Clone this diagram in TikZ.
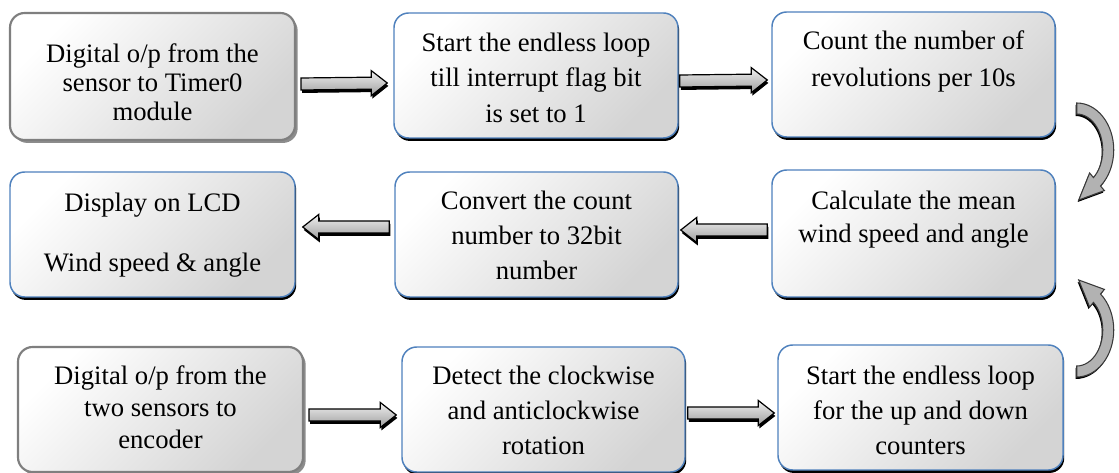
\documentclass[tikz,border=0pt]{standalone}
\usepackage{fontspec}
\setmainfont{Liberation Serif}
\usetikzlibrary{calc,shadows}
\definecolor{boxblue}{HTML}{4F81BD}
\definecolor{boxgrey}{HTML}{7F7F7F}
\definecolor{arrowline}{HTML}{3A3A3A}

% block arrow from one named coordinate to another
\newcommand\blockarrow[2]{%
  \path[blockarrow]
    ($(#1)+(0pt,4.5pt)$) -- ($(#2)!12pt!(#1)+(0pt,4.5pt)$)
    -- ($(#2)!12pt!(#1)+(0pt,9.4pt)$) -- (#2)
    -- ($(#2)!12pt!(#1)+(0pt,-9.4pt)$) -- ($(#2)!12pt!(#1)+(0pt,-4.5pt)$)
    -- ($(#1)+(0pt,-4.5pt)$) -- cycle;}

\begin{document}
\begin{tikzpicture}[x=0.75pt,y=-0.75pt,
  panel/.style 2 args={rounded corners=11pt, minimum width=#1*0.75pt,
    minimum height=#2*0.75pt, inner sep=0pt,
    top color=white, bottom color=black!17, shading angle=45},
  bluebox/.style={draw=boxblue, line width=1.1pt,
    drop shadow={shadow xshift=0.9pt, shadow yshift=-2.2pt, fill=black, opacity=1}},
  greybox/.style={draw=boxgrey, line width=1.6pt,
    drop shadow={shadow xshift=2pt, shadow yshift=-2.2pt, fill=black!45, opacity=1}},
  boxtext/.style={anchor=north, inner sep=0pt, align=center,
    font=\fontsize{20}{#1}\selectfont},
  blockarrow/.style={draw=black, line width=0.9pt, top color=black!6,
    bottom color=black!38,
    drop shadow={shadow xshift=0.8pt, shadow yshift=-2.2pt, fill=black, opacity=1}},
  curvearrow/.style={draw=arrowline, line width=0.8pt, fill=black!30,
    drop shadow={shadow xshift=-0.8pt, shadow yshift=-1.5pt, fill=black, opacity=1}}
]
\useasboundingbox (0,0) rectangle (1119,473);

% process boxes
\node[panel={285}{127}, greybox] (b1) at (152.5,76.5) {};
\node[panel={284}{125}, bluebox] (b2) at (536,75.5) {};
\node[panel={283}{125}, bluebox] (b3) at (913.5,74.5) {};
\node[panel={285}{125}, bluebox] (b4) at (152.5,234.5) {};
\node[panel={283}{125}, bluebox] (b5) at (536.5,234.5) {};
\node[panel={283}{127}, bluebox] (b6) at (913.5,233.5) {};
\node[panel={285}{125}, greybox] (b7) at (160.5,409.5) {};
\node[panel={283}{125}, bluebox] (b8) at (543.5,409.5) {};
\node[panel={285}{125}, bluebox] (b9) at (920.5,407.5) {};

% box texts
\node[boxtext=21.75pt] (t1) at ($(b1.north)+(0,30)$)
  {\rule{0pt}{15pt}Digital o/p from the\\ sensor to Timer0\\ module};
\node[boxtext=26.5pt] (t2) at ($(b2.north)+(0,19)$)
  {\rule{0pt}{15pt}Start the endless loop\\ till interrupt flag bit\\ is set to 1};
\node[boxtext=27.75pt] (t3) at ($(b3.north)+(0,18)$)
  {\rule{0pt}{15pt}Count the number of\\ revolutions per 10s};
\node[boxtext=45pt] (t4) at ($(b4.north)+(0,20)$)
  {\rule{0pt}{15pt}Display on LCD\\ Wind speed \& angle};
\node[boxtext=26.25pt] (t5) at ($(b5.north)+(0,18)$)
  {\rule{0pt}{15pt}Convert the count\\ number to 32bit\\ number};
\node[boxtext=24.75pt] (t6) at ($(b6.north)+(0,20)$)
  {\rule{0pt}{15pt}Calculate the mean\\ wind speed and angle};
\node[boxtext=24pt] (t7) at ($(b7.north)+(0,18)$)
  {\rule{0pt}{15pt}Digital o/p from the\\ two sensors to\\ encoder};
\node[boxtext=26.25pt] (t8) at ($(b8.north)+(0,18)$)
  {\rule{0pt}{15pt}Detect the clockwise\\ and anticlockwise\\ rotation};
\node[boxtext=26.25pt] (t9) at ($(b9.north)+(0,20)$)
  {\rule{0pt}{15pt}Start the endless loop\\ for the up and down\\ counters};

% straight block arrows
\coordinate (a1s) at ($(b1.east)+(5,7.5)$);
\coordinate (a1e) at ($(b2.west)+(-6,7.5)$);
\coordinate (a2s) at ($(b2.east)+(1,5.5)$);
\coordinate (a2e) at ($(b3.west)+(-4,5.5)$);
\coordinate (a3s) at ($(b5.west)+(-5,-7.5)$);
\coordinate (a3e) at ($(b4.east)+(7,-7.5)$);
\coordinate (a4s) at ($(b6.west)+(-4,-3.5)$);
\coordinate (a4e) at ($(b5.east)+(2,-4.5)$);
\coordinate (a5s) at ($(b7.east)+(5,5.5)$);
\coordinate (a5e) at ($(b8.west)+(-5,5.5)$);
\coordinate (a6s) at ($(b8.east)+(2,3.5)$);
\coordinate (a6e) at ($(b9.west)+(-3,5.5)$);
\blockarrow{a1s}{a1e}
\blockarrow{a2s}{a2e}
\blockarrow{a3s}{a3e}
\blockarrow{a4s}{a4e}
\blockarrow{a5s}{a5e}
\blockarrow{a6s}{a6e}

% curved arrows on the right-hand side
\coordinate (c1) at ($(b3.east)!0.5!(b6.east)+(21,-4)$);
\coordinate (c2) at ($(b6.east)!0.5!(b9.east)+(17,9.5)$);
\path[curvearrow] ($(c1)+(-90:37 and 47)$)
    arc[start angle=-90, end angle=50, x radius=37, y radius=47]
  -- ($(c1)+(50:43 and 53)$) -- ($(c1)+(2,50)$) -- ($(c1)+(50:20 and 30)$)
  -- ($(c1)+(50:26 and 36)$)
    arc[start angle=50, end angle=-90, x radius=26, y radius=36] -- cycle;
\path[curvearrow] ($(c2)+(90:37 and 47)$)
    arc[start angle=90, end angle=-50, x radius=37, y radius=47]
  -- ($(c2)+(-50:43 and 53)$) -- ($(c2)+(2,-50)$) -- ($(c2)+(-50:20 and 30)$)
  -- ($(c2)+(-50:26 and 36)$)
    arc[start angle=-50, end angle=90, x radius=26, y radius=36] -- cycle;
\end{tikzpicture}
\end{document}
